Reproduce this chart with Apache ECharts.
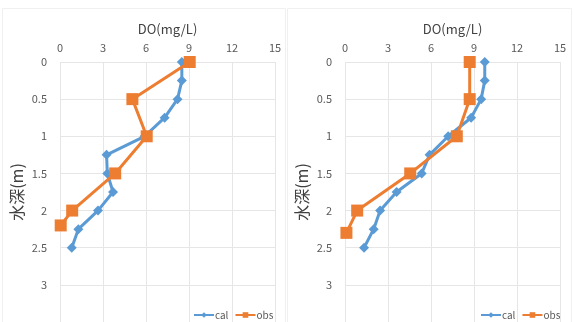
<!DOCTYPE html>
<html>
<head>
<meta charset="utf-8">
<script src="https://cdn.jsdelivr.net/npm/echarts@6/dist/echarts.min.js"></script>
<style>
  html, body { margin: 0; padding: 0; background: #fff; }
  #chart { width: 574px; height: 322px; }
</style>
</head>
<body>
<div id="chart"></div>
<script>
// Depth profiles of dissolved oxygen: model (cal) vs. measurements (obs)
const xTicks = [0, 3, 6, 9, 12, 15];
const yTicks = [0, 0.5, 1, 1.5, 2, 2.5, 3];

const calDepth = [0, 0.25, 0.5, 0.75, 1.0, 1.25, 1.5, 1.75, 2.0, 2.25, 2.5];
const leftCal  = [8.5, 8.5, 8.2, 7.3, 5.9, 3.25, 3.3, 3.7, 2.65, 1.28, 0.82];
const rightCal = [9.75, 9.75, 9.5, 8.8, 7.2, 5.9, 5.35, 3.6, 2.45, 2.0, 1.33];

const leftObsDepth  = [0, 0.5, 1.0, 1.5, 2.0, 2.2];
const leftObs       = [9.05, 5.05, 6.05, 3.85, 0.85, 0.05];
const rightObsDepth = [0, 0.5, 1.0, 1.5, 2.0, 2.3];
const rightObs      = [8.7, 8.7, 7.8, 4.55, 0.85, 0.1];

const xName = 'DO(mg/L)';
const yName = '水深(m)';
const BLUE = '#5B9BD5';
const ORANGE = '#ED7D31';
const FONT = '"Noto Sans CJK JP", "Noto Sans", sans-serif';

const pairs = (xs, ys) => xs.map((v, i) => [v, ys[i]]);

const gridLefts = [60, 345];
const unitY = 75.9;

function xAxisFor(i) {
  return {
    gridIndex: i, type: 'value', position: 'top',
    min: xTicks[0], max: xTicks[xTicks.length - 1], interval: xTicks[1] - xTicks[0],
    name: xName, nameLocation: 'middle', nameGap: 26,
    nameTextStyle: { color: '#404040', fontSize: 13, fontFamily: FONT },
    axisLine: { show: false }, axisTick: { show: false },
    axisLabel: { color: '#595959', fontSize: 11, fontFamily: FONT, margin: 9 },
    splitLine: { show: true, lineStyle: { color: '#e6e6e6', width: 1 } }
  };
}
function yAxisFor(i) {
  return {
    gridIndex: i, type: 'value', inverse: true,
    min: 0, max: 3.5, interval: yTicks[1] - yTicks[0],
    name: yName, nameLocation: 'middle', nameRotate: 90, nameGap: 35,
    nameTextStyle: { color: '#404040', fontSize: 16, fontFamily: FONT },
    axisLine: { show: false }, axisTick: { show: false },
    axisLabel: {
      color: '#595959', fontSize: 11, fontFamily: FONT, margin: 13,
      formatter: v => (yTicks.indexOf(v) >= 0 ? String(v) : '')
    },
    splitLine: { show: true, lineStyle: { color: '#e6e6e6', width: 1 } }
  };
}
function calSeries(i, xs) {
  return {
    name: 'cal', type: 'line', xAxisIndex: i, yAxisIndex: i,
    data: pairs(xs, calDepth),
    symbol: 'diamond', symbolSize: 10,
    lineStyle: { color: BLUE, width: 3 },
    itemStyle: { color: BLUE }, z: 2
  };
}
function obsSeries(i, xs, ds) {
  return {
    name: 'obs', type: 'line', xAxisIndex: i, yAxisIndex: i,
    data: pairs(xs, ds),
    symbol: 'rect', symbolSize: 12,
    lineStyle: { color: ORANGE, width: 3 },
    itemStyle: { color: ORANGE }, z: 3
  };
}
function legendFor(left) {
  return {
    left: left, top: 305, itemWidth: 20, itemHeight: 7, itemGap: 6,
    data: ['cal', 'obs'],
    textStyle: { color: '#595959', fontSize: 10, fontFamily: FONT, padding: [0, 0, 0, -4] }
  };
}

const chart = echarts.init(document.getElementById('chart'));
chart.setOption({
  animation: false,
  grid: gridLefts.map(l => ({ left: l, top: 62, width: 215, height: 3.5 * unitY })),
  xAxis: [xAxisFor(0), xAxisFor(1)],
  yAxis: [yAxisFor(0), yAxisFor(1)],
  legend: [legendFor(188), legendFor(475)],
  graphic: [
    { type: 'rect', shape: { x: 2.5, y: 8.5, width: 283, height: 330 },
      style: { fill: 'none', stroke: '#f0f0f0', lineWidth: 1 }, silent: true },
    { type: 'rect', shape: { x: 287.5, y: 8.5, width: 284, height: 330 },
      style: { fill: 'none', stroke: '#f0f0f0', lineWidth: 1 }, silent: true }
  ],
  series: [
    calSeries(0, leftCal), obsSeries(0, leftObs, leftObsDepth),
    calSeries(1, rightCal), obsSeries(1, rightObs, rightObsDepth)
  ]
});
</script>
</body>
</html>
